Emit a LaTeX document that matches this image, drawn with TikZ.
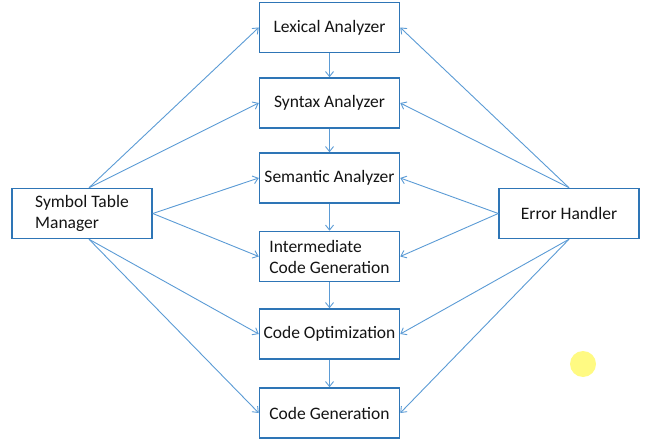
\documentclass[tikz,border=0pt]{standalone}
\usepackage{fontspec}
\setmainfont{Carlito}
\usetikzlibrary{arrows.meta}
\definecolor{boxblue}{RGB}{46,117,182}
\definecolor{lineblue}{RGB}{91,155,213}
\definecolor{txt}{RGB}{20,20,20}
\definecolor{dot}{RGB}{255,250,130}
\begin{document}
\begin{tikzpicture}[x=1bp,y=-1bp,
  phase/.style={draw=boxblue,line width=1.5bp,fill=white,minimum width=140bp,minimum height=50bp,
    inner sep=0pt,text=txt,font=\fontsize{17.5bp}{21bp}\selectfont,align=left},
  conn/.style={draw=lineblue,line width=0.9bp,-{Straight Barb[length=5bp,width=8bp]}}]
\useasboundingbox (0,0) rectangle (645,443);
\node[phase] (lex) at (329.5,27.5) {Lexical Analyzer};
\node[phase] (syn) at (329.5,103) {Syntax Analyzer};
\node[phase] (sem) at (329.5,178) {Semantic Analyzer};
\node[phase] (icg) at (329.5,256.5) {Intermediate\\Code Generation};
\node[phase] (opt) at (329.5,334) {Code Optimization};
\node[phase] (gen) at (329.5,413) {Code Generation};
\node[phase] (stm) at (82,213.5) {Symbol Table\\Manager};
\node[phase] (eh) at (569,213.5) {Error Handler};
\fill[dot] (583,364) circle (13);
% vertical flow
\draw[conn] (lex) -- (syn);
\draw[conn] (syn) -- (sem);
\draw[conn] (sem) -- (icg);
\draw[conn] (icg) -- (opt);
\draw[conn] (opt) -- (gen);
% symbol table manager
\draw[conn] ([xshift=7bp]stm.north) -- (lex.west);
\draw[conn] ([xshift=7bp]stm.north) -- (syn.west);
\draw[conn] (stm.east) -- (sem.west);
\draw[conn] (stm.east) -- (icg.west);
\draw[conn] ([xshift=7bp]stm.south) -- (opt.west);
\draw[conn] ([xshift=7bp]stm.south) -- (gen.west);
% error handler
\draw[conn] (eh.north) -- (lex.east);
\draw[conn] (eh.north) -- (syn.east);
\draw[conn] (eh.west) -- (sem.east);
\draw[conn] (eh.west) -- (icg.east);
\draw[conn] (eh.south) -- (opt.east);
\draw[conn] (eh.south) -- (gen.east);
\end{tikzpicture}
\end{document}
